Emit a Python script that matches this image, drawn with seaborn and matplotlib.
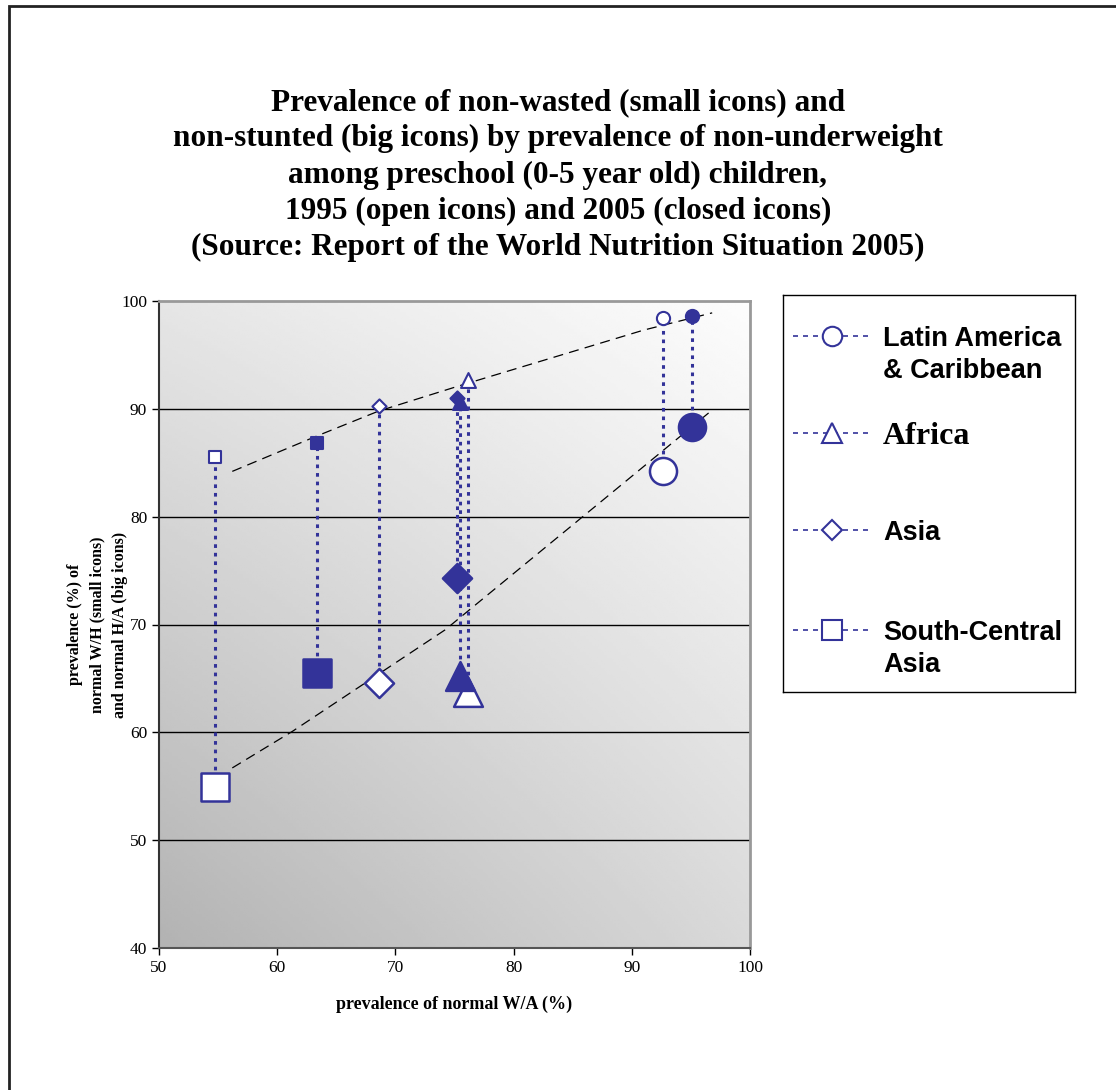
import matplotlib.pyplot as plt
import matplotlib.patches as mpatches
import numpy as np
import pandas as pd
import seaborn as sns

sns.set_style("white")
plt.rcParams["font.family"] = ["Liberation Serif", "DejaVu Serif"]
plt.rcParams["text.color"] = "black"
plt.rcParams["axes.labelcolor"] = "black"

BLUE = "#333399"
SERIF = "Liberation Serif"
SANS = "Liberation Sans"

# values
REGIONS = ["Latin America & Caribbean", "Africa", "Asia", "South-Central Asia"]
WA_1995 = [92.6, 76.1, 68.6, 54.7]   # normal W/A (%), x axis
WA_2005 = [95.1, 75.5, 75.2, 63.4]
WH_1995 = [98.4, 92.7, 90.3, 85.5]   # normal W/H (%), small icons
WH_2005 = [98.6, 90.6, 91.0, 86.8]
HA_1995 = [84.2, 63.7, 64.6, 54.9]   # normal H/A (%), big icons
HA_2005 = [88.3, 65.2, 74.3, 65.5]

# hand drawn trend lines
WH_TREND_X = [56.2, 63.4, 68.6, 75.3, 91.0, 96.8]
WH_TREND_Y = [84.2, 87.5, 89.8, 92.1, 97.3, 98.9]
HA_TREND_X = [56.2, 61.3, 74.2, 88.4, 96.7]
HA_TREND_Y = [56.7, 60.1, 69.5, 82.3, 89.8]

MARKERS = {"Latin America & Caribbean": "o", "Africa": "^",
           "Asia": "D", "South-Central Asia": "s"}
SMALL_S = {"o": 90, "^": 115, "D": 52, "s": 74}
BIG_S = {"o": 380, "^": 430, "D": 220, "s": 400}

df = pd.DataFrame({
    "region": REGIONS * 2,
    "year": [1995] * 4 + [2005] * 4,
    "wa": WA_1995 + WA_2005,
    "wh": WH_1995 + WH_2005,
    "ha": HA_1995 + HA_2005,
})

fig = plt.figure(figsize=(11.16, 10.90), dpi=100)
ax = fig.add_axes([159 / 1116, 1 - 948 / 1090, 591 / 1116, 647 / 1090])

# gradient background, dark bottom-left to white top-right
u, v = np.meshgrid(np.linspace(0, 1, 200), np.linspace(0, 1, 200))
shade = 0.70 + 0.15 * u + 0.20 * v - 0.06 * u * v
ax.imshow(shade, cmap="gray", vmin=0, vmax=1, origin="lower",
          extent=[50, 100, 40, 100], aspect="auto", zorder=0)

for yv in [50, 60, 70, 80, 90]:
    ax.axhline(yv, color="black", lw=1, zorder=1)

# trend lines
sns.lineplot(x=WH_TREND_X, y=WH_TREND_Y, color="black", lw=0.9,
             ax=ax, zorder=2).lines[-1].set_dashes([8, 5])
sns.lineplot(x=HA_TREND_X, y=HA_TREND_Y, color="black", lw=0.9,
             ax=ax, zorder=2).lines[-1].set_dashes([8, 5])

# dotted connectors between small and big icons
ax.vlines(df["wa"], df["ha"], df["wh"], colors=BLUE, lw=2.2,
          linestyles=(0, (1.2, 1.6)), zorder=3)

# icons
for _, row in df.iterrows():
    m = MARKERS[row["region"]]
    face = "white" if row["year"] == 1995 else BLUE
    sns.scatterplot(x=[row["wa"]], y=[row["wh"]], marker=m, s=SMALL_S[m],
                    color=face, edgecolor=BLUE, linewidth=1.5, ax=ax, zorder=4)
    sns.scatterplot(x=[row["wa"]], y=[row["ha"]], marker=m, s=BIG_S[m],
                    color=face, edgecolor=BLUE, linewidth=1.8, ax=ax, zorder=4)

ax.set_xlim(50, 100)
ax.set_ylim(40, 100)
ax.set_xticks(range(50, 101, 10))
ax.set_yticks(range(40, 101, 10))
ax.tick_params(direction="out", length=5, width=1, labelsize=12.5,
               left=True, bottom=True, colors="black")
for side in ["top", "right"]:
    ax.spines[side].set_color("#999999")
    ax.spines[side].set_linewidth(2)
ax.spines["left"].set_color("#333333")
ax.spines["bottom"].set_color("#555555")
ax.spines["left"].set_linewidth(1.5)
ax.spines["bottom"].set_linewidth(1.5)

ax.set_xlabel("prevalence of normal W/A (%)", fontsize=13, fontweight="bold",
              labelpad=14)
ax.set_ylabel("prevalence (%) of\nnormal W/H (small icons)\nand normal H/A (big icons)",
              fontsize=11.5, fontweight="bold", labelpad=-5, linespacing=1.55)

fig.text(0.5, 1 - 175 / 1090,
         "Prevalence of non-wasted (small icons) and\n"
         "non-stunted (big icons) by prevalence of non-underweight\n"
         "among preschool (0-5 year old) children,\n"
         "1995 (open icons) and 2005 (closed icons)\n"
         "(Source: Report of the World Nutrition Situation 2005)",
         ha="center", va="center", fontsize=22.5, fontweight="bold",
         linespacing=1.33)

# legend box
lax = fig.add_axes([783 / 1116, 1 - 692 / 1090, 292 / 1116, 397 / 1090])
lax.set_xlim(0, 1)
lax.set_ylim(0, 1)
lax.set_xticks([])
lax.set_yticks([])
for sp in lax.spines.values():
    sp.set_color("black")
    sp.set_linewidth(1)
leg_y = [0.897, 0.652, 0.408, 0.156]
leg_labels = ["Latin America\n& Caribbean", "Africa", "Asia", "South-Central\nAsia"]
for region, label, yy in zip(REGIONS, leg_labels, leg_y):
    line, = lax.plot([0.034, 0.305], [yy, yy], color=BLUE, lw=1.2)
    line.set_dashes([3, 3])
    lax.plot([0.168], [yy], marker=MARKERS[region], ms=14 if MARKERS[region] != "D" else 10,
             mfc="white", mec=BLUE, mew=1.5, ls="none")
    if region == "Africa":
        lax.text(0.342, yy, label, fontsize=23, fontweight="bold", family=SERIF,
                 va="center_baseline", ha="left")
    elif "\n" in label:
        lax.text(0.342, yy + 0.026, label, fontsize=19.5, fontweight="bold",
                 family=SANS, va="top", ha="left", linespacing=1.33)
    else:
        lax.text(0.342, yy, label, fontsize=19.5, fontweight="bold",
                 family=SANS, va="center_baseline", ha="left")

# outer frame of the picture
fig.add_artist(mpatches.Rectangle((8.5 / 1116, -0.5), 2, 1.5 - 5.5 / 1090,
                                  transform=fig.transFigure, fill=False,
                                  edgecolor="#222222", lw=2))

fig.savefig("out.png", dpi=100)
